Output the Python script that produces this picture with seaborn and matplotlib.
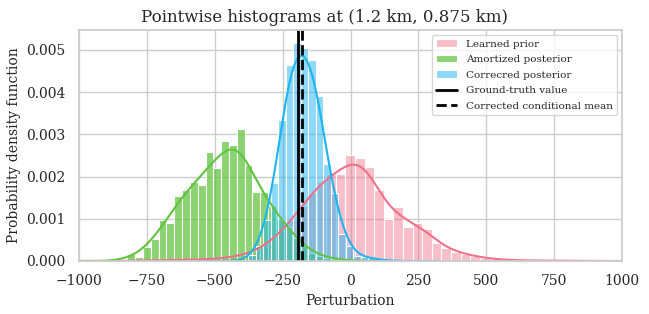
import numpy as np
import pandas as pd
import matplotlib
matplotlib.use("Agg")
import matplotlib.pyplot as plt
import seaborn as sns

# ---- data (densities in units of 1e-3) ----
prior_start, prior_width = -797.8, 35.4
prior_density_e3 = [0.01, 0.02, 0.01, 0.02, 0.02, 0.03, 0.03, 0.04, 0.05, 0.07,
                    0.10, 0.14, 0.22, 0.33, 0.50, 0.72, 0.98, 1.30, 1.62, 1.88,
                    2.05, 2.07, 2.50, 2.43, 2.22, 1.67, 1.00, 1.29, 0.81, 0.89,
                    0.75, 0.43, 0.30, 0.21, 0.17, 0.11, 0.07, 0.04, 0.03, 0.02,
                    0.015, 0.01, 0.01, 0.008, 0.006, 0.005, 0.004]

amort_start, amort_width = -822.0, 28.8
amort_density_e3 = [0.17, 0.10, 0.33, 0.52, 0.97, 0.90, 1.54, 1.68, 1.86, 1.80,
                    2.58, 2.20, 2.85, 2.75, 3.13, 2.27, 1.64, 1.64, 1.30, 1.00,
                    0.80, 0.55, 0.35, 0.20, 0.12, 0.08, 0.05, 0.03]

corr_start, corr_width = -376.6, 27.6
corr_density_e3 = [0.15, 0.35, 0.97, 1.85, 3.34, 4.64, 5.17, 5.05, 4.75, 3.90,
                   2.30, 1.60, 0.65, 0.35, 0.12, 0.10, 0.06, 0.03, 0.02]

ground_truth = -192.0
corrected_mean = -177.0

labels = ["Learned prior", "Amortized posterior", "Correcred posterior"]
line_labels = ["Ground-truth value", "Corrected conditional mean"]
title = "Pointwise histograms at (1.2 km, 0.875 km)"
xlabel = "Perturbation"
ylabel = "Probability density function"

# ---- style ----
sns.set_theme(style="whitegrid")
plt.rcParams["font.family"] = ["DejaVu Serif"]
colors = ["#f07089", "#5fc33c", "#1eb4f0"]
alphas = [0.45, 0.72, 0.5]
bws = [0.25, 0.33, 0.42]

fig = plt.figure(figsize=(6.49, 3.14), dpi=100)
ax = fig.add_axes([79 / 649, 1 - 261 / 314, (622 - 79) / 649, (261 - 30) / 314])

series = [
    (prior_start, prior_width, prior_density_e3),
    (amort_start, amort_width, amort_density_e3),
    (corr_start, corr_width, corr_density_e3),
]
for (start, width, dens), lab, col, a, bw in zip(series, labels, colors, alphas, bws):
    dens = np.asarray(dens) * 1e-3
    edges = start + width * np.arange(len(dens) + 1)
    centers = 0.5 * (edges[:-1] + edges[1:])
    df = pd.DataFrame({"value": centers, "density": dens})
    sns.histplot(data=df, x="value", weights="density", bins=list(edges),
                 stat="count", kde=True,
                 kde_kws={"bw_method": bw, "cut": 3, "gridsize": 400},
                 color=col, alpha=a,
                 edgecolor="white", linewidth=0.8, label=lab, ax=ax,
                 line_kws={"linewidth": 1.5})

ax.axvline(ground_truth, color="black", linewidth=2, label=line_labels[0])
ax.axvline(corrected_mean, color="black", linewidth=2, linestyle="--",
           label=line_labels[1])

ax.set_xlim(-1000, 1000)
ax.set_ylim(0, 0.00547)
ax.set_xticks(np.arange(-1000, 1001, 250))
yt = np.arange(0, 0.0051, 0.001)
ax.set_yticks(yt)
ax.set_yticklabels([f"{v:.3f}" for v in yt])
ax.tick_params(labelsize=10)
ax.set_title(title, fontsize=12, x=(324.5 - 79) / 543)
ax.set_xlabel(xlabel, fontsize=10)
ax.set_ylabel(ylabel, fontsize=10)

handles, labs = ax.get_legend_handles_labels()
order = [labs.index(l) for l in labels + line_labels]
ax.legend([handles[i] for i in order], [labs[i] for i in order],
          loc="upper right", fontsize=7.5, frameon=True, labelspacing=0.6)

fig.savefig("out.png", dpi=100)
